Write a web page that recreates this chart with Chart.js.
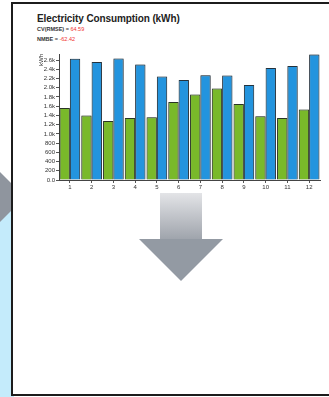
<!DOCTYPE html>
<html>
<head>
<meta charset="utf-8">
<script src="https://cdn.jsdelivr.net/npm/chart.js@4/dist/chart.umd.min.js"></script>
<style>
  html, body { margin: 0; padding: 0; }
  body { width: 329px; height: 397px; overflow: hidden; position: relative; background: #fff; font-family: "Liberation Sans", Arial, sans-serif; }
  #blue { position: absolute; left: 0; top: 205px; width: 14px; height: 192px; background: #c4ebfb; }
  #chev { position: absolute; left: 0; top: 172px; width: 14px; height: 50px; background: #8f959e;
          clip-path: polygon(0 0, 11px 11px, 11px 39px, 0 50px); }
  #panel { position: absolute; left: 11px; top: 2px; width: 340px; height: 390px; border: 2px solid #1c1c1c; background: #fff; }
  #title { position: absolute; left: 37px; top: 13px; font-size: 10px; font-weight: bold; color: #222; letter-spacing: -0.1px; }
  .stat { position: absolute; left: 37px; font-size: 5.5px; font-weight: bold; color: #333; }
  .stat span { color: #f03030; font-weight: normal; }
  #cv { top: 26px; }
  #nmbe { top: 36px; }
  #box { position: absolute; left: 26px; top: 46px; width: 303px; height: 152px; }
  #shaft { position: absolute; left: 160px; top: 193px; width: 42px; height: 47px;
           background: linear-gradient(#e3e4e7, #9ea3ab); }
  #head { position: absolute; left: 139px; top: 239px; width: 84px; height: 42px; background: #939aa3;
          clip-path: polygon(0 0, 100% 0, 50% 100%); }
</style>
</head>
<body>
<div id="blue"></div>
<div id="chev"></div>
<div id="panel"></div>
<div id="title">Electricity Consumption (kWh)</div>
<div class="stat" id="cv">CV(RMSE) = <span>64.59</span></div>
<div class="stat" id="nmbe">NMBE = <span>-62.42</span></div>
<div id="box"><canvas id="chart"></canvas></div>
<div id="shaft"></div>
<div id="head"></div>
<script>
const months = ['1', '2', '3', '4', '5', '6', '7', '8', '9', '10', '11', '12'];
const actual = [1560, 1395, 1280, 1345, 1360, 1690, 1850, 1980, 1645, 1380, 1345, 1525];
const baseline = [2625, 2555, 2630, 2505, 2240, 2165, 2270, 2262, 2058, 2428, 2470, 2720];
const yTicks = [0, 200, 400, 600, 800, 1000, 1200, 1400, 1600, 1800, 2000, 2200, 2400, 2600];
const yMax = 2730;

function kfmt(v) {
  if (v === 0) return '0.0';
  if (v < 1000) return String(v);
  return (v / 1000).toFixed(1) + 'k';
}

const shadow = {
  id: 'shadow',
  beforeDatasetsDraw(chart) {
    const c = chart.ctx;
    c.save();
    c.shadowColor = 'rgba(0,0,0,0.35)';
    c.shadowBlur = 2;
  },
  afterDatasetsDraw(chart) {
    chart.ctx.restore();
  }
};

new Chart(document.getElementById('chart'), {
  type: 'bar',
  data: {
    labels: months,
    datasets: [
      { label: 'Actual', data: actual, backgroundColor: '#79b92a', borderColor: '#2f3a2a', borderWidth: 1 },
      { label: 'Baseline', data: baseline, backgroundColor: '#2394de', borderColor: '#283844', borderWidth: 1 }
    ]
  },
  options: {
    responsive: true,
    maintainAspectRatio: false,
    animation: false,
    layout: { padding: { top: 8, right: 9, left: 0, bottom: 0 } },
    plugins: { legend: { display: false }, tooltip: { enabled: false } },
    datasets: { bar: { categoryPercentage: 0.95, barPercentage: 1 } },
    scales: {
      x: {
        grid: { display: true, drawOnChartArea: false, tickLength: 3, color: '#555', offset: false },
        border: { display: true, color: '#444' },
        ticks: { color: '#333', font: { size: 6, family: 'Liberation Sans' }, padding: 1, maxRotation: 0, autoSkip: false },
        afterFit(s) { s.height = 18; }
      },
      y: {
        min: 0,
        max: yMax,
        afterBuildTicks(s) { s.ticks = yTicks.map(v => ({ value: v })); },
        grid: { display: true, drawOnChartArea: false, tickLength: 3, color: '#555' },
        border: { display: true, color: '#444' },
        ticks: { color: '#333', font: { size: 6, family: 'Liberation Sans' }, padding: 1, autoSkip: false, callback: v => kfmt(v) },
        title: { display: true, text: 'kWh', align: 'end', color: '#333', font: { size: 6, family: 'Liberation Sans' }, padding: { top: 12, bottom: 0 } },
        afterFit(s) { s.width = 33; }
      }
    }
  },
  plugins: [shadow]
});
</script>
</body>
</html>
